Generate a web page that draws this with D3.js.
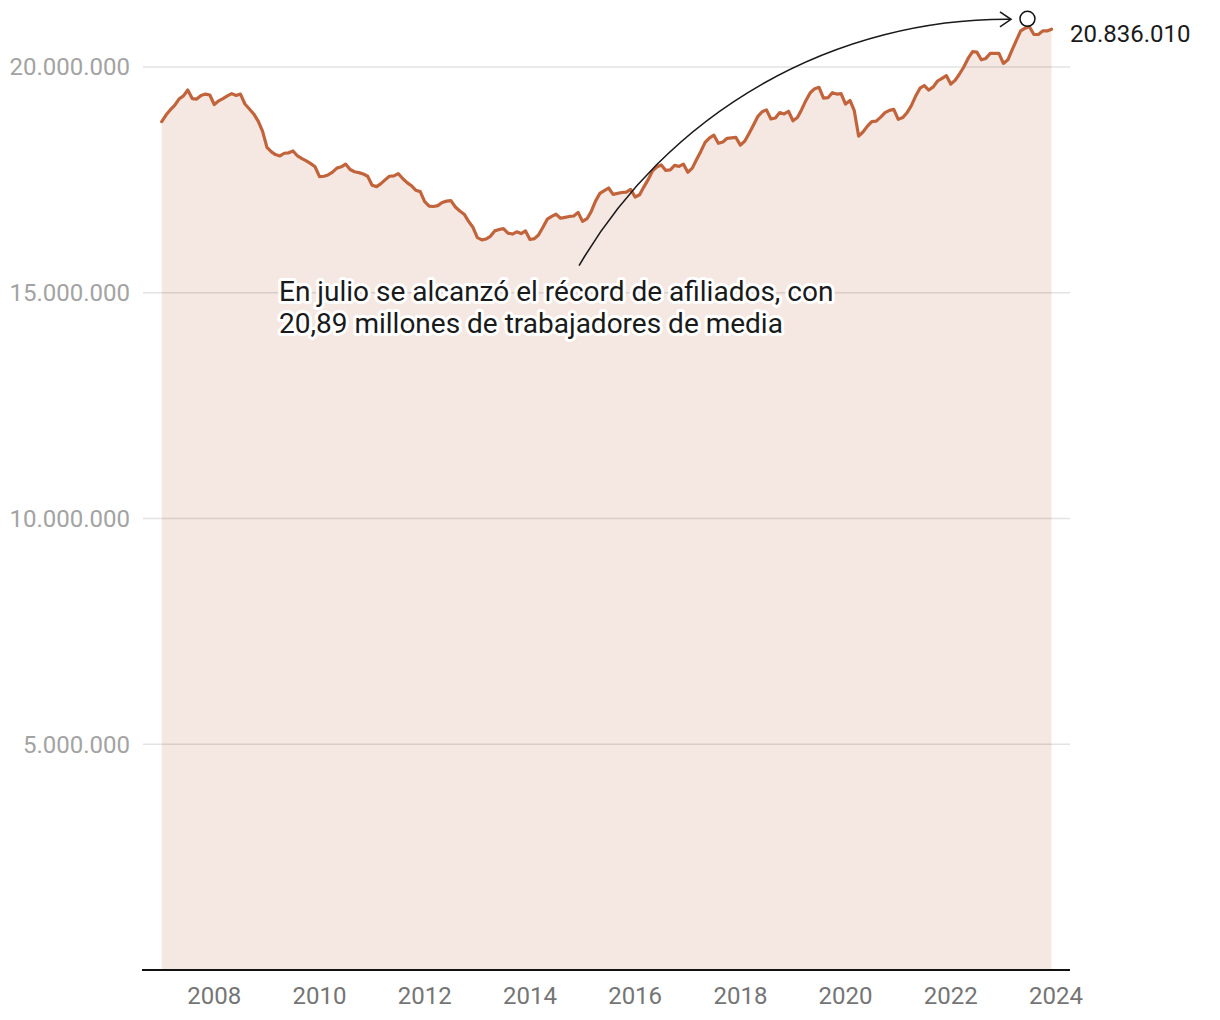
<!DOCTYPE html>
<html>
<head>
<meta charset="utf-8">
<script src="https://cdn.jsdelivr.net/npm/d3@7"></script>
<style>
  html, body { margin: 0; padding: 0; background: #fff; }
  svg { display: block; font-family: Roboto, "Noto Sans", sans-serif; }
</style>
</head>
<body>
<svg id="chart" width="1220" height="1020"></svg>
<script>
// ---- Data (afiliados medios, millones), mensual desde enero de 2007 ----
const startYear = 2007;
const afiliados = [
  18.79, 18.94, 19.05, 19.15, 19.29, 19.36, 19.49, 19.30, 19.29, 19.37, 19.40, 19.38, // 2007
  19.17, 19.25, 19.30, 19.36, 19.41, 19.37, 19.40, 19.18, 19.07, 18.96, 18.80, 18.58, // 2008
  18.22, 18.12, 18.06, 18.03, 18.09, 18.10, 18.14, 18.03, 17.97, 17.92, 17.86, 17.79, // 2009
  17.57, 17.58, 17.61, 17.67, 17.76, 17.79, 17.85, 17.73, 17.68, 17.66, 17.63, 17.58, // 2010
  17.38, 17.35, 17.41, 17.50, 17.58, 17.59, 17.64, 17.53, 17.44, 17.37, 17.27, 17.24, // 2011
  17.02, 16.92, 16.91, 16.93, 17.00, 17.03, 17.04, 16.90, 16.81, 16.74, 16.58, 16.45, // 2012
  16.22, 16.17, 16.19, 16.25, 16.37, 16.40, 16.42, 16.32, 16.30, 16.35, 16.31, 16.37, // 2013
  16.18, 16.20, 16.28, 16.45, 16.63, 16.69, 16.74, 16.65, 16.67, 16.69, 16.70, 16.78, // 2014
  16.58, 16.64, 16.79, 17.03, 17.20, 17.26, 17.32, 17.18, 17.20, 17.22, 17.23, 17.29, // 2015
  17.12, 17.17, 17.34, 17.51, 17.70, 17.79, 17.83, 17.71, 17.72, 17.82, 17.80, 17.85, // 2016
  17.67, 17.76, 17.94, 18.13, 18.33, 18.43, 18.49, 18.31, 18.34, 18.42, 18.43, 18.44, // 2017
  18.27, 18.36, 18.52, 18.71, 18.90, 19.01, 19.05, 18.85, 18.87, 18.99, 18.96, 19.02, // 2018
  18.81, 18.88, 19.05, 19.26, 19.43, 19.52, 19.55, 19.31, 19.32, 19.43, 19.40, 19.41, // 2019
  19.18, 19.26, 19.04, 18.47, 18.56, 18.69, 18.79, 18.80, 18.89, 18.99, 19.04, 19.06, // 2020
  18.84, 18.88, 18.98, 19.14, 19.35, 19.53, 19.59, 19.49, 19.56, 19.69, 19.75, 19.81, // 2021
  19.62, 19.71, 19.84, 20.00, 20.19, 20.34, 20.33, 20.16, 20.19, 20.30, 20.30, 20.30, // 2022
  20.08, 20.16, 20.37, 20.59, 20.80, 20.86, 20.89, 20.72, 20.72, 20.80, 20.80, 20.83601 // 2023
];
const yTickValues = [5000000, 10000000, 15000000, 20000000];
const xTickYears = [2008, 2010, 2012, 2014, 2016, 2018, 2020, 2022, 2024];
const annotationLines = [
  "En julio se alcanzó el récord de afiliados, con",
  "20,89 millones de trabajadores de media"
];

// ---- Setup ----
const locale = d3.formatLocale({ decimal: ",", thousands: ".", grouping: [3], currency: ["", "€"] });
const fmt = locale.format(",d");

const data = afiliados.map((v, i) => ({ date: new Date(startYear, i, 1), value: v * 1e6 }));

const svg = d3.select("#chart");
const plotLeft = 143, plotRight = 1070;

const x = d3.scaleTime()
  .domain([data[0].date, data[data.length - 1].date])
  .range([161.7, 1051.5]);
const y = d3.scaleLinear().domain([0, 20000000]).range([970, 67]);

// Area
const area = d3.area().x(d => x(d.date)).y0(y(0)).y1(d => y(d.value));
svg.append("path").datum(data).attr("d", area).attr("fill", "#f5e7e2");

// Gridlines + y labels
const yg = svg.append("g");
yg.selectAll("line").data(yTickValues).join("line")
  .attr("x1", plotLeft).attr("x2", plotRight)
  .attr("y1", d => y(d)).attr("y2", d => y(d))
  .attr("stroke", "#000").attr("stroke-opacity", 0.11).attr("stroke-width", 1.3);
yg.selectAll("text").data(yTickValues).join("text")
  .attr("x", 130).attr("y", d => y(d)).attr("dy", "0.35em")
  .attr("text-anchor", "end").attr("font-size", 24).attr("fill", "#a3a3a3")
  .text(d => fmt(d));

// Line
const line = d3.line().x(d => x(d.date)).y(d => y(d.value));
svg.append("path").datum(data).attr("d", line)
  .attr("fill", "none").attr("stroke", "#c2643b").attr("stroke-width", 3.2)
  .attr("stroke-linejoin", "round").attr("stroke-linecap", "round");

// X axis
svg.append("line").attr("x1", plotLeft - 1).attr("x2", plotRight)
  .attr("y1", y(0)).attr("y2", y(0)).attr("stroke", "#111").attr("stroke-width", 2);
svg.append("g").selectAll("text").data(xTickYears).join("text")
  .attr("x", d => x(new Date(d, 0, 1))).attr("y", y(0) + 34)
  .attr("text-anchor", "middle").attr("font-size", 24).attr("fill", "#757575")
  .text(d => d);

// Last value label
const last = data[data.length - 1];
svg.append("text").attr("x", plotRight).attr("y", y(last.value) + 13)
  .attr("font-size", 24).attr("fill", "#1a1a1a")
  .text(fmt(Math.round(last.value)));

// Record circle
const rec = data.reduce((a, b) => (b.value > a.value ? b : a));
const r = 7.5;
const cx = x(rec.date) - 2, cy = y(rec.value) - r - 0.5;
svg.append("circle").attr("cx", cx).attr("cy", cy).attr("r", r)
  .attr("fill", "none").attr("stroke", "#111").attr("stroke-width", 1.5);

// Arrow (circular arc)
const ax0 = x(new Date(2014, 11, 1)) + 1, ay0 = y(15600000);
const ax1 = cx - r - 9, ay1 = cy + 0.5;
const g = svg.append("g").attr("fill", "none").attr("stroke", "#1a1a1a").attr("stroke-width", 1.6);
g.append("path").attr("d", `M${ax0},${ay0} A495,495 0 0 1 ${ax1},${ay1}`);
g.append("path").attr("d", `M${ax1 - 11},${ay1 - 7.5} L${ax1},${ay1} L${ax1 - 11},${ay1 + 7.5}`)
  .attr("stroke-linejoin", "miter");

// Annotation text with white halo
const annX = 279, annY = 300.5, annLH = 32;
const halo = svg.append("text").attr("font-size", 28).attr("fill", "#fff")
  .attr("stroke", "#fff").attr("stroke-width", 6).attr("stroke-linejoin", "round");
const txt = svg.append("text").attr("font-size", 28).attr("fill", "#1a1a1a");
[halo, txt].forEach(el => {
  annotationLines.forEach((s, i) => {
    el.append("tspan").attr("x", annX).attr("y", annY + i * annLH).text(s);
  });
});
</script>
</body>
</html>
